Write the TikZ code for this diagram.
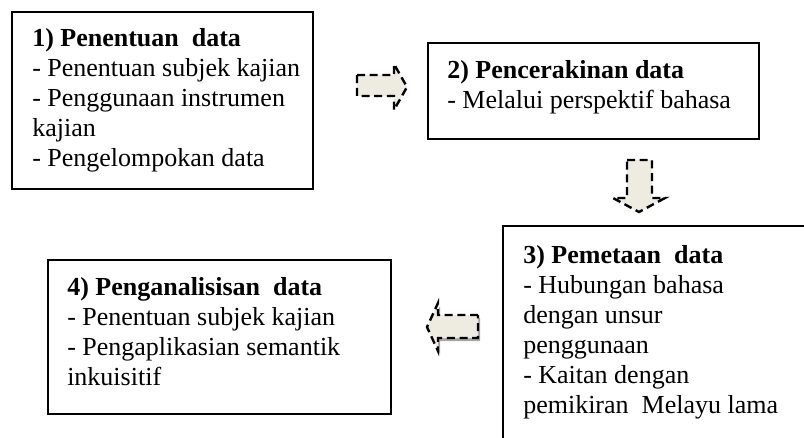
\documentclass[tikz,border=0pt]{standalone}
\usepackage{fontspec}
\setmainfont{Liberation Serif}
\usetikzlibrary{positioning}
\definecolor{arrowfill}{HTML}{EEECE1}
\tikzset{
    frame/.style={draw, line width=1.5pt, anchor=north west, inner sep=0pt},
    boxtext/.style={anchor=north west, inner sep=0pt, align=left, font=\fontsize{19.5}{22.5}\selectfont},
    blockarrow/.style={draw, fill=arrowfill, dash pattern=on 6pt off 3.5pt, line width=1.8pt}
}

\begin{document}
\begin{tikzpicture}[x=0.75pt, y=-0.75pt]
    % page is 804 x 437, box 3 runs off it
        \clip (0,0) rectangle (804,437);

    % The four boxes
        \node[frame, minimum width=225.75pt, minimum height=132.75pt] (box1) at (11,11) {};
        \node[frame, minimum width=248.25pt, minimum height=72pt] (box2) at (427,42) {};
        \node[frame, minimum width=247.5pt, minimum height=180pt] (box3) at (502,225) {};
        \node[frame, minimum width=257.25pt, minimum height=115.5pt] (box4) at (47,259) {};

    % Their text
        \node[boxtext, below right=12.75pt and 15.75pt of box1.north west] (txt1) {\textbf{1) Penentuan\ \ data}\\- Penentuan subjek kajian\\- Penggunaan instrumen\\kajian\\- Pengelompokan data};
        \node[boxtext, below right=13.5pt and 15pt of box2.north west] (txt2) {\textbf{2) Pencerakinan data}\\- Melalui perspektif bahasa};
        \node[boxtext, below right=15pt and 15.75pt of box3.north west] (txt3) {\textbf{3) Pemetaan\ \ data}\\- Hubungan bahasa\\dengan unsur\\penggunaan\\- Kaitan dengan\\pemikiran\ \ Melayu lama};
        \node[boxtext, below right=13.5pt and 15pt of box4.north west] (txt4) {\textbf{4) Penganalisisan\ \ data}\\- Penentuan subjek kajian\\- Pengaplikasian semantik\\inkuisitif};

    % The block arrows
        % 1 -> 2
        \draw[blockarrow] (357,75) -- (394,75) -- (394,64) -- (407,87) -- (394,110) -- (394,96) -- (357,96) -- cycle;
        % 2 -> 3
        \draw[blockarrow] (627,160) -- (652,160) -- (652,198) -- (665,198) -- (639,212) -- (613,198) -- (627,198) -- cycle;
        % 3 -> 4, with a shadow
        \fill[gray!70, shift={(2,3)}] (478,315) -- (438,315) -- (438,303) -- (427,327) -- (438,351) -- (438,338) -- (478,338) -- cycle;
        \draw[blockarrow] (478,315) -- (438,315) -- (438,303) -- (427,327) -- (438,351) -- (438,338) -- (478,338) -- cycle;
\end{tikzpicture}
\end{document}
